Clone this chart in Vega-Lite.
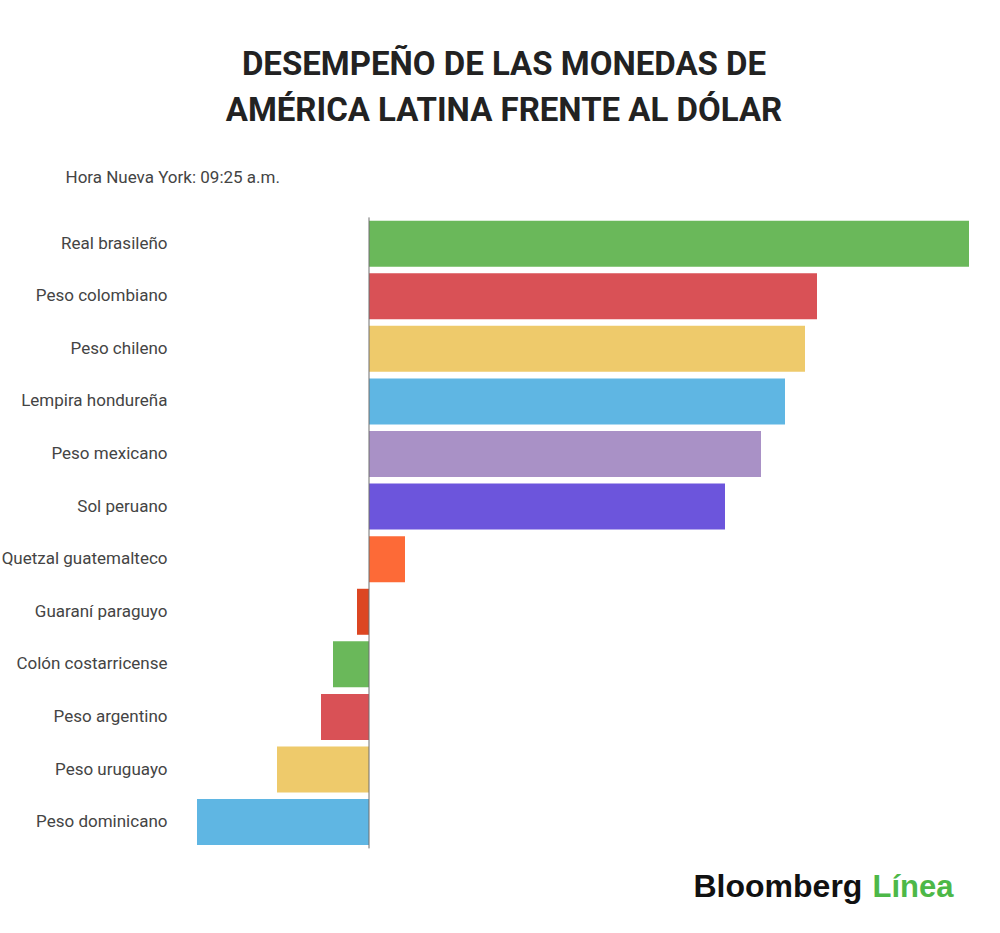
{
  "$schema": "https://vega.github.io/schema/vega-lite/v6.json",
  "autosize": "none",
  "width": 772,
  "height": 631,
  "padding": {"left": 196, "top": 217.4, "right": 32, "bottom": 84.6},
  "background": "white",
  "title": {
    "text": ["DESEMPEÑO DE LAS MONEDAS DE", "AMÉRICA LATINA FRENTE AL DÓLAR"],
    "font": "Roboto",
    "fontSize": 33,
    "fontWeight": "bold",
    "color": "#222222",
    "lineHeight": 46,
    "anchor": "middle",
    "dx": -78,
    "offset": 40
  },
  "data": {
    "values": [
      {"moneda": "Real brasileño", "variacion": 1.50},
      {"moneda": "Peso colombiano", "variacion": 1.12},
      {"moneda": "Peso chileno", "variacion": 1.09},
      {"moneda": "Lempira hondureña", "variacion": 1.04},
      {"moneda": "Peso mexicano", "variacion": 0.98},
      {"moneda": "Sol peruano", "variacion": 0.89},
      {"moneda": "Quetzal guatemalteco", "variacion": 0.09},
      {"moneda": "Guaraní paraguyo", "variacion": -0.03},
      {"moneda": "Colón costarricense", "variacion": -0.09},
      {"moneda": "Peso argentino", "variacion": -0.12},
      {"moneda": "Peso uruguayo", "variacion": -0.23},
      {"moneda": "Peso dominicano", "variacion": -0.43}
    ]
  },
  "layer": [
    {
      "mark": {"type": "bar"},
      "encoding": {
        "y": {
          "field": "moneda",
          "type": "nominal",
          "sort": null,
          "scale": {"paddingInner": 0.125, "paddingOuter": 0.0625},
          "axis": {
            "title": "Hora Nueva York: 09:25 a.m.",
            "titleAngle": 0,
            "titleAlign": "left",
            "titleBaseline": "alphabetic",
            "titleX": -131,
            "titleY": -35.4,
            "titleFont": "Roboto",
            "titleFontSize": 17,
            "titleFontWeight": "normal",
            "titleColor": "#444444",
            "labelFont": "Roboto",
            "labelFontSize": 17,
            "labelColor": "#444444",
            "labelPadding": 29,
            "labelLimit": 250,
            "ticks": false,
            "domain": false
          }
        },
        "x": {
          "field": "variacion",
          "type": "quantitative",
          "scale": {"domain": [-0.4325, 1.4975], "nice": false, "zero": false},
          "axis": {
            "orient": "bottom",
            "grid": false,
            "domain": false,
            "ticks": false,
            "labels": false,
            "title": "Bloomberg",
            "titleX": 497,
            "titleY": 47.6,
            "titleAlign": "left",
            "titleBaseline": "alphabetic",
            "titleFont": "Liberation Sans",
            "titleFontSize": 32,
            "titleFontWeight": "bold",
            "titleColor": "#111111"
          }
        },
        "color": {
          "field": "moneda",
          "type": "nominal",
          "legend": null,
          "scale": {
            "domain": ["Real brasileño", "Peso colombiano", "Peso chileno", "Lempira hondureña", "Peso mexicano", "Sol peruano", "Quetzal guatemalteco", "Guaraní paraguyo", "Colón costarricense", "Peso argentino", "Peso uruguayo", "Peso dominicano"],
            "range": ["#6ab85a", "#d95156", "#eeca6b", "#5fb6e3", "#a991c6", "#6c55dc", "#fd6a37", "#dc4622", "#6ab85a", "#d95156", "#eeca6b", "#5fb6e3"]
          }
        }
      }
    },
    {
      "data": {"values": [{"cero": 0}]},
      "mark": {"type": "rule", "color": "#6f6f6f", "strokeWidth": 1},
      "encoding": {
        "x": {
          "field": "cero",
          "type": "quantitative",
          "scale": {"domain": [-0.4325, 1.4975], "nice": false, "zero": false},
          "axis": {
            "orient": "bottom",
            "grid": false,
            "domain": false,
            "ticks": false,
            "labels": false,
            "title": "Línea",
            "titleX": 757,
            "titleY": 47.6,
            "titleAlign": "right",
            "titleBaseline": "alphabetic",
            "titleFont": "Liberation Sans",
            "titleFontSize": 31,
            "titleFontWeight": "bold",
            "titleColor": "#4db848"
          }
        }
      }
    }
  ],
  "resolve": {"axis": {"x": "independent"}},
  "config": {
    "view": {"stroke": null}
  }
}
